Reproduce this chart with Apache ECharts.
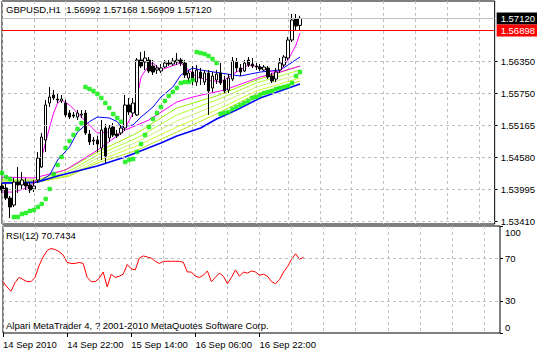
<!DOCTYPE html>
<html>
<head>
<meta charset="utf-8">
<script src="https://cdn.jsdelivr.net/npm/echarts@6/dist/echarts.min.js"></script>
<style>
  html, body { margin: 0; padding: 0; background: #fff; }
  #chart { width: 538px; height: 351px; }
</style>
</head>
<body>
<div id="chart"></div>
<script>
// number of hourly slots on the time axis (bars + empty space on the right)
var slotCount = 125;

// time axis labels, one every 16 bars
var timeLabels = ['14 Sep 2010', '14 Sep 22:00', '15 Sep 14:00', '16 Sep 06:00', '16 Sep 22:00'];

// price scale ticks (value) and the text MT4 prints next to them
var priceTicks = [1.53410, 1.53995, 1.54580, 1.55165, 1.55750, 1.56335];
var priceTickLabels = ['1.53410', '1.53995', '1.54580', '1.55165', '1.55750', '1.56350'];
var rsiTicks = [0, 30, 70, 100];

// GBPUSD H1 candles: [open, close, low, high]
var candles = [
  [1.54052, 1.53979, 1.53924, 1.54107],
  [1.54016, 1.53832, 1.53796, 1.54089],
  [1.53832, 1.53668, 1.53467, 1.53869],
  [1.53704, 1.54125, 1.53668, 1.54198],
  [1.54125, 1.54071, 1.53924, 1.54400],
  [1.54071, 1.54162, 1.53979, 1.54308],
  [1.54107, 1.54052, 1.53979, 1.54198],
  [1.54071, 1.53979, 1.53924, 1.54125],
  [1.53997, 1.54052, 1.53942, 1.54162],
  [1.54162, 1.54564, 1.54107, 1.54674],
  [1.54400, 1.54949, 1.54382, 1.55023],
  [1.54894, 1.55535, 1.54674, 1.55626],
  [1.55571, 1.55681, 1.55498, 1.55864],
  [1.55718, 1.55663, 1.55626, 1.55809],
  [1.55644, 1.55626, 1.55571, 1.55754],
  [1.55608, 1.55644, 1.55571, 1.55718],
  [1.55571, 1.55352, 1.55315, 1.55626],
  [1.55388, 1.55315, 1.55279, 1.55443],
  [1.55352, 1.55333, 1.55297, 1.55407],
  [1.55315, 1.55388, 1.55260, 1.55443],
  [1.55352, 1.55370, 1.55297, 1.55443],
  [1.55388, 1.55023, 1.54986, 1.55443],
  [1.55004, 1.54858, 1.54803, 1.55077],
  [1.54876, 1.54894, 1.54803, 1.54949],
  [1.54894, 1.54821, 1.54674, 1.54968],
  [1.54748, 1.55077, 1.54528, 1.55260],
  [1.55114, 1.54601, 1.54473, 1.55187],
  [1.54931, 1.55114, 1.54858, 1.55169],
  [1.55132, 1.54986, 1.54949, 1.55205],
  [1.55004, 1.54968, 1.54931, 1.55077],
  [1.55023, 1.55114, 1.54986, 1.55169],
  [1.55114, 1.55535, 1.55059, 1.55718],
  [1.55535, 1.55407, 1.55352, 1.55663],
  [1.55388, 1.55571, 1.55315, 1.55663],
  [1.55352, 1.56358, 1.55333, 1.56395],
  [1.56358, 1.56248, 1.56212, 1.56504],
  [1.56321, 1.56395, 1.56175, 1.56523],
  [1.56358, 1.56157, 1.56120, 1.56413],
  [1.56248, 1.56138, 1.56083, 1.56358],
  [1.56175, 1.56212, 1.56102, 1.56266],
  [1.56157, 1.56212, 1.56120, 1.56285],
  [1.56230, 1.56303, 1.56212, 1.56358],
  [1.56303, 1.56285, 1.56248, 1.56358],
  [1.56285, 1.56340, 1.56248, 1.56395],
  [1.56321, 1.56358, 1.56266, 1.56486],
  [1.56358, 1.56303, 1.56248, 1.56395],
  [1.56303, 1.56083, 1.56029, 1.56358],
  [1.56029, 1.56120, 1.55955, 1.56175],
  [1.56138, 1.55992, 1.55901, 1.56248],
  [1.55955, 1.56175, 1.55882, 1.56266],
  [1.56138, 1.56029, 1.55901, 1.56212],
  [1.55955, 1.56120, 1.55901, 1.56175],
  [1.56120, 1.55791, 1.55352, 1.56175],
  [1.55846, 1.56065, 1.55772, 1.56138],
  [1.55992, 1.56102, 1.55919, 1.56175],
  [1.56120, 1.55937, 1.55901, 1.56303],
  [1.55992, 1.55791, 1.55736, 1.56065],
  [1.55809, 1.56029, 1.55754, 1.56102],
  [1.56010, 1.56340, 1.55974, 1.56413],
  [1.56321, 1.56212, 1.56138, 1.56395],
  [1.56212, 1.56138, 1.56065, 1.56285],
  [1.56157, 1.56303, 1.56138, 1.56358],
  [1.56358, 1.56266, 1.56230, 1.56413],
  [1.56285, 1.56248, 1.56212, 1.56395],
  [1.56248, 1.56230, 1.56175, 1.56303],
  [1.56230, 1.56193, 1.56157, 1.56285],
  [1.56175, 1.56230, 1.56157, 1.56266],
  [1.56212, 1.56047, 1.56010, 1.56248],
  [1.56065, 1.55974, 1.55937, 1.56120],
  [1.56010, 1.56138, 1.55955, 1.56212],
  [1.56175, 1.56303, 1.56120, 1.56395],
  [1.56266, 1.56413, 1.56230, 1.56450],
  [1.56395, 1.56724, 1.56358, 1.56779],
  [1.56724, 1.57090, 1.56687, 1.57200],
  [1.57108, 1.56980, 1.56907, 1.57200],
  [1.56992, 1.57120, 1.56909, 1.57168]
];

// horizontal line drawn by the user
var redLevel = 1.56898;

// parabolic SAR, one dot per bar
var sar = [
  1.54290, 1.54217, 1.54180, 1.53485, 1.53485, 1.53540, 1.53558, 1.53595, 1.53613, 1.53668,
  1.53724, 1.53815, 1.53999, 1.54272, 1.54437, 1.54583, 1.54748, 1.54876, 1.54986, 1.55095,
  1.55205, 1.55864, 1.55828, 1.55791, 1.55736, 1.55663, 1.55571, 1.55480, 1.55370, 1.55297,
  1.55230, 1.54491, 1.54528, 1.54546, 1.54674, 1.54821, 1.54986, 1.55132, 1.55279, 1.55388,
  1.55498, 1.55608, 1.55700, 1.55772, 1.55846, 1.55937, 1.55955, 1.55955, 1.55992, 1.56504,
  1.56486, 1.56468, 1.56431, 1.56376, 1.56303, 1.55370, 1.55388, 1.55407, 1.55463, 1.55498,
  1.55535, 1.55571, 1.55608, 1.55663, 1.55681, 1.55718, 1.55754, 1.55772, 1.55791, 1.55828,
  1.55846, 1.55864, 1.55882, 1.55937, 1.56065, 1.56138
];

// RSI(12), one value per bar
var rsi = [
  48, 43, 39, 47, 52, 50, 48, 48, 52, 63,
  71, 77, 79, 78, 76, 73, 66, 65, 65, 66,
  65, 52, 48, 48, 51, 57, 43, 55, 52, 53,
  55, 64, 60, 59, 70, 72, 71, 70, 67, 65,
  67, 67, 67, 67, 67, 66, 57, 57, 53, 52,
  54, 58, 48, 52, 56, 53, 46, 52, 59, 53,
  57, 56, 58, 57, 54, 55, 53, 48, 46, 50,
  57, 62, 69, 74, 69, 70.7434
];

// moving averages read at [bar, price]
var maFast = [[0, 1.53942], [3, 1.53942], [7, 1.54034], [9, 1.54198], [10, 1.54583], [12, 1.55132],
  [13, 1.55388], [14, 1.55571], [15, 1.55626], [17, 1.55535], [19, 1.55388], [22, 1.55169],
  [24, 1.55023], [27, 1.55040], [29, 1.54986], [31, 1.55114], [33, 1.55388], [34, 1.55681],
  [35, 1.56047], [37, 1.56266], [38, 1.56303], [40, 1.56175], [42, 1.56230], [45, 1.56303],
  [47, 1.56175], [49, 1.56047], [52, 1.55992], [55, 1.55955], [56, 1.55992], [59, 1.56138],
  [62, 1.56266], [65, 1.56230], [68, 1.56138], [70, 1.56157], [72, 1.56358], [74, 1.56632],
  [75, 1.56852]];
var maMid = [[0, 1.54107], [8, 1.54107], [10, 1.54162], [12, 1.54253], [14, 1.54528], [17, 1.54766],
  [19, 1.55040], [22, 1.55230], [24, 1.55315], [27, 1.55297], [29, 1.55230], [30, 1.55132],
  [33, 1.55169], [35, 1.55315], [38, 1.55498], [40, 1.55681], [43, 1.55864], [45, 1.56083],
  [48, 1.56212], [50, 1.56175], [55, 1.56120], [60, 1.56065], [65, 1.56138], [70, 1.56175],
  [72, 1.56266], [75, 1.56413]];
var maSlow = [[0, 1.54107], [9, 1.54125], [14, 1.54235], [24, 1.54418], [31, 1.54583], [40, 1.54839],
  [44, 1.54968], [50, 1.55114], [54, 1.55279], [59, 1.55443], [65, 1.55663], [70, 1.55791],
  [75, 1.55919]];
var ribbonTop = [[0, 1.54217], [8, 1.54198], [16, 1.54345], [24, 1.54706], [31, 1.55077], [37, 1.55260],
  [44, 1.55590], [48, 1.55681], [56, 1.55809], [65, 1.56047], [70, 1.56138], [75, 1.56248]];

// green ribbon of slower averages, read at these bars
var ribbonBars = [0, 9, 17, 24, 34, 44, 54, 64, 75];
var ribbon1 = [1.54162, 1.54162, 1.54382, 1.54674, 1.55022, 1.55480, 1.55700, 1.55992, 1.56248];
var ribbon2 = [1.54143, 1.54143, 1.54327, 1.54619, 1.54931, 1.55352, 1.55626, 1.55937, 1.56175];
var ribbon3 = [1.54125, 1.54143, 1.54290, 1.54565, 1.54858, 1.55242, 1.55535, 1.55864, 1.56102];
var ribbon4 = [1.54107, 1.54125, 1.54254, 1.54510, 1.54788, 1.55132, 1.55443, 1.55791, 1.56029];
var ribbon5 = [1.54089, 1.54125, 1.54235, 1.54473, 1.54706, 1.55040, 1.55370, 1.55736, 1.55974];

var slots = [];
for (var i = 0; i < slotCount; i++) slots.push(String(i));

var font = 'Liberation Sans';
var fs = 9.5;
var gridLine = { color: '#c0c0c0', type: [3, 3], width: 1 };
var last = candles[candles.length - 1];

function pairs(bars, vals) {
  return bars.map(function (b, k) { return [b, vals[k]]; });
}
function maLine(data, color, width) {
  return {
    type: 'line', xAxisIndex: 0, yAxisIndex: 0, data: data, symbol: 'none',
    lineStyle: { color: color, width: width }, silent: true, z: 3
  };
}
function tickText(list, labels) {
  return function (v) {
    for (var k = 0; k < list.length; k++) {
      if (Math.abs(list[k] - v) < 1e-7) return labels[k];
    }
    return '';
  };
}
function timeTick(idx) { return idx % 16 === 0 && idx / 16 < timeLabels.length; }

var chart = echarts.init(document.getElementById('chart'), null, { renderer: 'svg' });

chart.setOption({
  animation: false,
  backgroundColor: '#fff',
  textStyle: { fontFamily: font, fontSize: fs, color: '#000' },
  title: [
    {
      text: 'GBPUSD,H1  ' + last[0].toFixed(5) + ' ' + last[3].toFixed(5) + ' ' +
        last[2].toFixed(5) + ' ' + last[1].toFixed(5),
      left: 6, top: 4, padding: 0,
      textStyle: { fontFamily: font, fontSize: fs, fontWeight: 'normal', color: '#000' }
    },
    {
      text: 'RSI(12) ' + rsi[rsi.length - 1].toFixed(4),
      left: 6, top: 230, padding: 0,
      textStyle: { fontFamily: font, fontSize: fs, fontWeight: 'normal', color: '#000' }
    },
    {
      text: 'Alpari MetaTrader 4, ? 2001-2010 MetaQuotes Software Corp.',
      left: 6, top: 320, padding: 0,
      textStyle: { fontFamily: font, fontSize: fs, fontWeight: 'normal', color: '#000' }
    }
  ],
  grid: [
    { left: 2, top: 1, width: 498, height: 223, show: true, borderColor: '#000', borderWidth: 1 },
    { left: 2, top: 226, width: 498, height: 107, show: true, borderColor: '#000', borderWidth: 1 }
  ],
  xAxis: [
    {
      type: 'category', gridIndex: 0, data: slots, boundaryGap: false,
      axisLine: { show: false }, axisTick: { show: false }, axisLabel: { show: false },
      splitLine: { show: true, interval: 7, lineStyle: gridLine }
    },
    {
      type: 'category', gridIndex: 1, data: slots, boundaryGap: false,
      axisLine: { show: false },
      axisTick: { show: true, interval: timeTick, length: 4, lineStyle: { color: '#000' } },
      axisLabel: {
        interval: timeTick, align: 'left', margin: 6, color: '#000',
        fontFamily: font, fontSize: fs,
        formatter: function (v, idx) { return timeLabels[idx / 16] || ''; }
      },
      splitLine: { show: true, interval: 7, lineStyle: gridLine }
    }
  ],
  yAxis: [
    {
      type: 'value', gridIndex: 0, position: 'right', min: 1.53357, max: 1.57438,
      splitLine: { show: false }, axisLine: { show: false },
      axisTick: { show: true, customValues: priceTicks, length: 3, lineStyle: { color: '#000' } },
      axisLabel: {
        customValues: priceTicks, margin: 6, color: '#000', fontFamily: font, fontSize: fs,
        formatter: tickText(priceTicks, priceTickLabels)
      }
    },
    {
      type: 'value', gridIndex: 1, position: 'right', min: 0, max: 100,
      splitLine: { show: false }, axisLine: { show: false },
      axisTick: { show: true, customValues: rsiTicks, length: 3, lineStyle: { color: '#000' } },
      axisLabel: {
        customValues: rsiTicks, margin: 5, color: '#000', fontFamily: font, fontSize: fs,
        formatter: function (v) {
          if (v === 100) return '{t|100}';
          if (v === 0) return '{b|0}';
          return String(v);
        },
        rich: {
          t: { padding: [13, 0, 0, 0], fontFamily: font, fontSize: fs, color: '#000' },
          b: { padding: [0, 0, 11, 0], fontFamily: font, fontSize: fs, color: '#000' }
        }
      }
    }
  ],
  series: [
    {
      // price grid lines
      type: 'line', xAxisIndex: 0, yAxisIndex: 0, data: [], z: 1, silent: true,
      markLine: {
        silent: true, symbol: ['none', 'none'], label: { show: false }, precision: 5,
        lineStyle: gridLine,
        data: priceTicks.map(function (v) { return { yAxis: v }; })
      }
    },
    {
      // rsi grid lines
      type: 'line', xAxisIndex: 1, yAxisIndex: 1, data: [], z: 1, silent: true,
      markLine: {
        silent: true, symbol: ['none', 'none'], label: { show: false },
        lineStyle: gridLine,
        data: [{ yAxis: 30 }, { yAxis: 70 }]
      }
    },
    maLine(pairs(ribbonBars, ribbon5), '#b4e61e', 1),
    maLine(pairs(ribbonBars, ribbon4), '#ccff33', 1),
    maLine(pairs(ribbonBars, ribbon3), '#c8f07a', 1),
    maLine(pairs(ribbonBars, ribbon2), '#adff2f', 1),
    maLine(pairs(ribbonBars, ribbon1), '#99ee00', 1),
    maLine(ribbonTop, '#ff00ff', 1),
    maLine(maSlow, '#0000ff', 1.5),
    maLine(maMid, '#0000ff', 1),
    maLine(maFast, '#ff00ff', 1),
    {
      type: 'candlestick', xAxisIndex: 0, yAxisIndex: 0, data: candles, z: 4,
      barWidth: 3, silent: true,
      itemStyle: {
        color: '#ffffff', color0: '#000000',
        borderColor: '#000000', borderColor0: '#000000', borderWidth: 1
      },
      markLine: {
        silent: true, symbol: ['none', 'none'], precision: 5,
        label: {
          show: true, position: 'end', distance: 2, padding: [1, 2, 1, 4],
          fontFamily: font, fontSize: fs, color: '#fff',
          formatter: function (p) { return Number(p.value).toFixed(5); }
        },
        data: [
          { yAxis: last[1], lineStyle: { color: '#c0c0c0', type: 'solid', width: 1 },
            label: { backgroundColor: '#000' } },
          { yAxis: redLevel, lineStyle: { color: '#ff0000', type: 'solid', width: 1 },
            label: { backgroundColor: '#ff0000' } }
        ]
      }
    },
    {
      type: 'scatter', xAxisIndex: 0, yAxisIndex: 0, data: sar, z: 5, silent: true,
      symbol: 'roundRect', symbolSize: 4.5,
      itemStyle: { color: '#00ee00' }
    },
    {
      type: 'line', xAxisIndex: 1, yAxisIndex: 1, data: rsi, symbol: 'none', z: 3, silent: true,
      lineStyle: { color: '#ff0000', width: 1 }
    }
  ]
});
</script>
</body>
</html>
